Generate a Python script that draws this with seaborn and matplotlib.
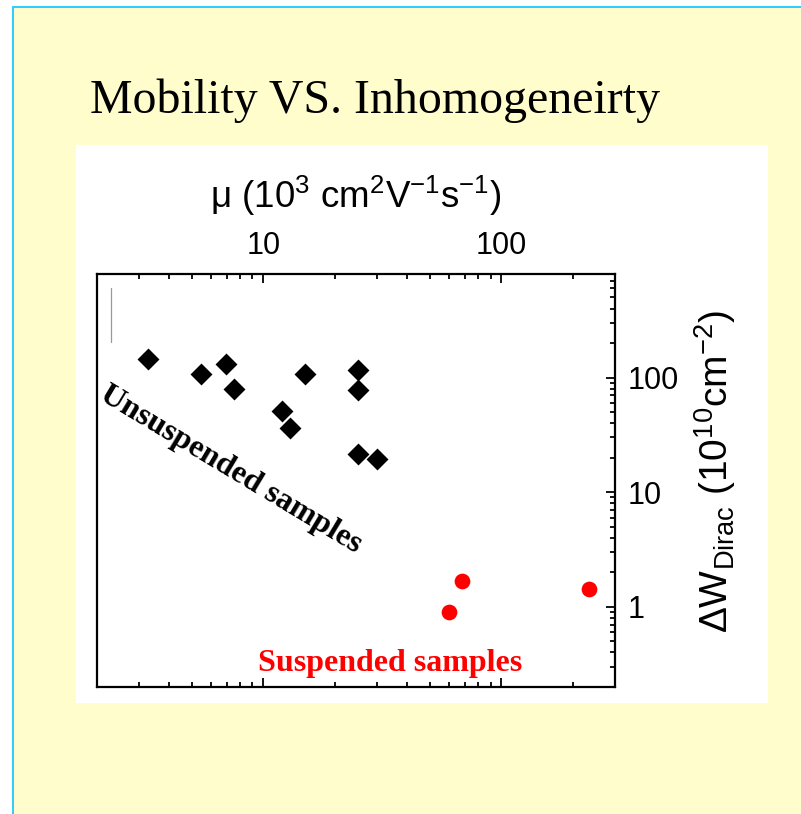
import matplotlib
matplotlib.use("Agg")
import matplotlib.pyplot as plt
import matplotlib.ticker as mticker
from matplotlib.patches import Rectangle
from matplotlib.lines import Line2D
import numpy as np
import pandas as pd
import seaborn as sns

# ---- data ----
unsusp_mu = [3.27, 5.46, 6.96, 7.56, 12.0, 12.97, 15.0, 25.0, 25.0, 25.0, 30.1]
unsusp_dw = [145, 108, 131, 80, 51, 36, 107, 116, 78, 21.4, 19.4]
susp_mu = [60.3, 68.3, 233]
susp_dw = [0.91, 1.69, 1.42]
x_ticks = [10, 100]
x_tick_labels = ["10", "100"]
y_ticks = [1, 10, 100]
y_tick_labels = ["1", "10", "100"]

df = pd.DataFrame({
    "mu": unsusp_mu + susp_mu,
    "dw": unsusp_dw + susp_dw,
    "kind": ["Unsuspended"] * len(unsusp_mu) + ["Suspended"] * len(susp_mu),
})

sns.set_style("ticks")
plt.rcParams["font.family"] = ["Liberation Sans", "DejaVu Sans"]
plt.rcParams["mathtext.fontset"] = "custom"
plt.rcParams["mathtext.rm"] = "Liberation Sans"
plt.rcParams["mathtext.it"] = "Liberation Sans:italic"
plt.rcParams["mathtext.bf"] = "Liberation Sans:bold"
for key in ("text.color", "axes.labelcolor", "xtick.color", "ytick.color",
            "xtick.labelcolor", "ytick.labelcolor"):
    plt.rcParams[key] = "black"

W, H = 801, 814
fig = plt.figure(figsize=(W / 100, H / 100), dpi=100)
fig.patch.set_facecolor("white")

def px_rect(x0, y0, x1, y1, color, z=0):
    fig.patches.append(Rectangle((x0 / W, 1 - y1 / H), (x1 - x0) / W, (y1 - y0) / H,
                                 transform=fig.transFigure, facecolor=color,
                                 edgecolor="none", zorder=z))

# slide background, border and white figure panel
px_rect(12, 6, W, H, "#FFFDCC", z=0)
px_rect(12, 6, 14, H, "#33CCFF", z=1)
px_rect(12, 6, W, 8, "#33CCFF", z=1)
px_rect(76, 145, 768, 703, "white", z=1)

fig.text(90 / W, 1 - 113 / H, "Mobility VS. Inhomogeneirty",
         family="Liberation Serif", fontsize=34.5, color="black",
         ha="left", va="baseline")

ax = fig.add_axes([97 / W, 1 - 687 / H, (615 - 97) / W, (687 - 274) / H])
ax.set_zorder(5)
ax.set_facecolor("white")

sns.scatterplot(data=df[df.kind == "Unsuspended"], x="mu", y="dw", marker="D",
                color="black", s=125, linewidth=0, ax=ax, legend=False, zorder=3)
sns.scatterplot(data=df[df.kind == "Suspended"], x="mu", y="dw", marker="o",
                color="#FF0000", s=128, linewidth=0, ax=ax, legend=False, zorder=3)

ax.set_xscale("log")
ax.set_yscale("log")
ax.set_xlim(2, 300)
ax.set_ylim(0.2, 800)

ax.xaxis.set_major_locator(mticker.FixedLocator(x_ticks))
ax.xaxis.set_major_formatter(mticker.FixedFormatter(x_tick_labels))
ax.xaxis.set_minor_locator(mticker.LogLocator(base=10, subs=np.arange(2, 10)))
ax.xaxis.set_minor_formatter(mticker.NullFormatter())
ax.yaxis.set_major_locator(mticker.FixedLocator(y_ticks))
ax.yaxis.set_major_formatter(mticker.FixedFormatter(y_tick_labels))
ax.yaxis.set_minor_locator(mticker.LogLocator(base=10, subs=np.arange(2, 10)))
ax.yaxis.set_minor_formatter(mticker.NullFormatter())

ax.xaxis.tick_top()
ax.xaxis.set_label_position("top")
ax.yaxis.tick_right()
ax.yaxis.set_label_position("right")

ax.tick_params(axis="x", which="both", direction="in", top=True, bottom=True,
               labeltop=True, labelbottom=False, width=1.3, color="black",
               labelsize=22, pad=9)
ax.tick_params(axis="y", which="both", direction="in", right=True, left=False,
               labelright=True, labelleft=False, width=1.3, color="black",
               labelsize=22, pad=9)
ax.tick_params(which="major", length=6.5)
ax.tick_params(which="minor", length=3.6)

for sp in ax.spines.values():
    sp.set_visible(True)
    sp.set_color("black")
    sp.set_linewidth(1.6)

ax.set_xlabel(r"μ (10$^{3}$ cm$^{2}$V$^{-1}$s$^{-1}$)", fontsize=26.5, labelpad=17)
ax.set_ylabel(r"ΔW$_{\mathrm{Dirac}}$ (10$^{10}$cm$^{-2}$)", fontsize=28,
              rotation=90)
ax.yaxis.set_label_coords(1.150, 0.523)

ax.text(0.259, 0.525, "Unsuspended samples", transform=ax.transAxes,
        family="Liberation Serif", fontweight="bold", fontsize=23,
        color="black", rotation=-31, rotation_mode="anchor",
        ha="center", va="center", zorder=4)
ax.text(0.311, 0.039, "Suspended samples", transform=ax.transAxes,
        family="Liberation Serif", fontweight="bold", fontsize=23,
        color="#FF0000", ha="left", va="baseline", zorder=4)

# faint mark near the upper-left corner of the frame
ax.add_line(Line2D([0.027, 0.027], [0.835, 0.966], transform=ax.transAxes,
                   color="#999999", linewidth=0.9, zorder=2))

fig.savefig("out.png", dpi=100, facecolor=fig.get_facecolor())
